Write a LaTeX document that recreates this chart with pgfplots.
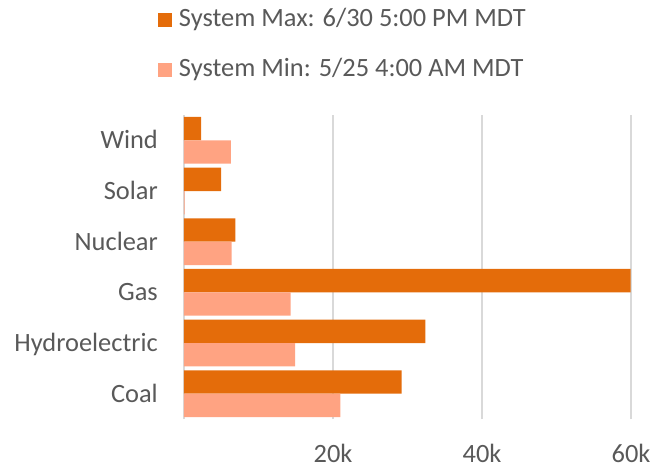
\documentclass[border=0pt]{standalone}
\usepackage{pgfplots}
\pgfplotsset{compat=1.18}
\usepackage{fontspec}
\setmainfont{Carlito}
\definecolor{maxc}{HTML}{E46C0A}
\definecolor{minc}{HTML}{FFA382}
\definecolor{gridc}{HTML}{D9D9D9}
\definecolor{txt}{HTML}{595959}
\begin{document}
\begin{tikzpicture}
\begin{axis}[
  scale only axis,
  width=447bp, height=304bp,
  xbar,
  bar width=23.4bp,
  xmin=0, xmax=60000,
  ymin=-0.5, ymax=5.5,
  ytick={0,1,2,3,4,5},
  yticklabels={Coal,Hydroelectric,Gas,Nuclear,Solar,Wind},
  xtick={20000,40000,60000},
  xticklabels={20k,40k,60k},
  scaled x ticks=false,
  xmajorgrids,
  grid style={draw=gridc, line width=1.3bp},
  axis x line*=bottom,
  axis y line*=left,
  x axis line style={draw=none},
  y axis line style={draw=gridc, line width=1.3bp},
  major tick length=0pt,
  tick style={draw=none},
  ticklabel style={font=\fontsize{26.5}{30}\selectfont, text=txt},
  yticklabel style={anchor=base east, inner sep=0pt, xshift=-26bp, yshift=-8.5bp},
  xticklabel style={anchor=base, inner sep=0pt, yshift=-43bp},
  legend style={at={(0,1)}, anchor=north west, xshift=-26bp, yshift=107bp,
    draw=none, fill=none, inner sep=0pt, outer sep=0pt,
    row sep=26bp, column sep=6.6bp,
    font=\fontsize{26.5}{30}\selectfont, text=txt,
    nodes={inner sep=0pt, text height=18bp, text depth=6bp, anchor=base west}},
  legend cell align=left,
  sq legend/.style={legend image code/.code={\fill[##1] (0bp,-1bp) rectangle (14.4bp,13.4bp);}},
]
\addplot[draw=none, fill=maxc, bar shift=11.7bp, sq legend] coordinates {
  (29200,0) (32400,1) (59950,2) (6900,3) (5000,4) (2300,5)};
\addlegendentry{System Max: 6/30 5:00 PM MDT}
\addplot[draw=none, fill=minc, bar shift=-11.7bp, sq legend] coordinates {
  (21000,0) (14900,1) (14300,2) (6400,3) (100,4) (6300,5)};
\addlegendentry{System Min: 5/25 4:00 AM MDT}
\end{axis}
\pgfresetboundingbox
\useasboundingbox (-184bp,-50bp) rectangle (487bp,419bp);
\end{tikzpicture}
\end{document}
